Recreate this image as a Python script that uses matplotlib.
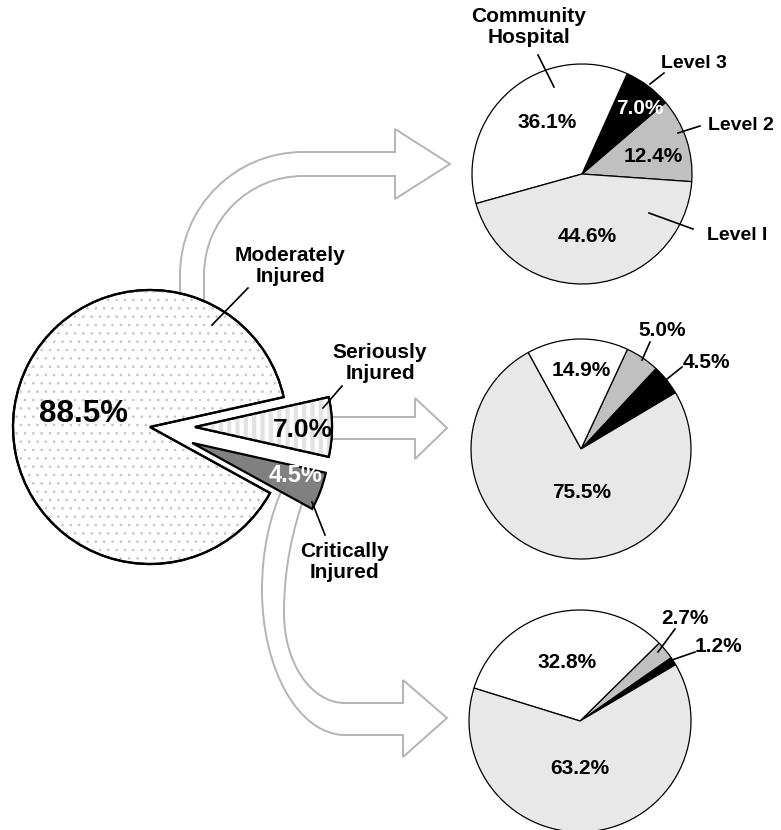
import matplotlib
matplotlib.use("Agg")
import matplotlib.pyplot as plt
from matplotlib.patches import Wedge, PathPatch
from matplotlib.path import Path

plt.rcParams['font.family'] = ['Liberation Sans', 'DejaVu Sans']
plt.rcParams['font.weight'] = 'bold'

W, H = 781, 830

# left pie: injury severity
severity = ["Seriously Injured", "Moderately Injured", "Critically Injured"]
severity_pct = [7.0, 88.5, 4.5]

# right pies: destination hospital for each severity group
dest_top = ["Level 2", "Level 3", "Community Hospital", "Level I"]
moderate_pct = [12.4, 7.0, 36.1, 44.6]
dest_low = ["Level 3", "Level 2", "Community Hospital", "Level I"]
serious_pct = [4.5, 5.0, 14.9, 75.5]
critical_pct = [1.2, 2.7, 32.8, 63.2]

dest_color = {"Community Hospital": "white", "Level I": "#e8e8e8",
              "Level 2": "#c0c0c0", "Level 3": "black"}
sev_color = {"Seriously Injured": "white", "Moderately Injured": "white",
             "Critically Injured": "#808080"}


def P(x, y):
    # pixel position (y down) -> axes data (y up)
    return (x, H - y)


fig = plt.figure(figsize=(W / 100, H / 100), dpi=100)
ax = fig.add_axes([0, 0, 1, 1])

# ---- block arrows (drawn behind the pies)
M, L, C, Z = Path.MOVETO, Path.LINETO, Path.CURVE4, Path.CLOSEPOLY


def arrow(pts, codes):
    verts = [P(x, y) for x, y in pts]
    ax.add_patch(PathPatch(Path(verts, codes), facecolor="white",
                           edgecolor="#b4b4b4", lw=1.4, zorder=0.5))


k = 0.5523
arrow([(180, 340), (180, 275), (180, 275 - k * 123), (303 - k * 123, 152), (303, 152),
       (395, 152), (395, 129), (450, 164), (395, 199), (395, 176), (303, 176),
       (303 - k * 99, 176), (204, 275 - k * 99), (204, 275), (204, 340), (180, 340)],
      [M, L, C, C, C, L, L, L, L, L, L, C, C, C, L, Z])
arrow([(300, 417), (415, 417), (415, 398), (447, 428), (415, 459), (415, 439),
       (300, 439), (300, 417)],
      [M, L, L, L, L, L, L, Z])
arrow([(284, 485), (270, 515), (262, 550), (262, 590), (262, 670), (299, 735), (345, 735),
       (403, 735), (403, 757), (447, 718), (403, 680), (403, 703), (345, 703),
       (311, 703), (284, 663), (284, 613), (284, 570), (292, 530), (306, 492),
       (284, 485)],
      [M, C, C, C, C, C, C, L, L, L, L, L, L, C, C, C, C, C, C, Z])

# ---- main pie
main_w, _ = ax.pie(severity_pct, explode=[45, 0, 45],
                   colors=[sev_color[s] for s in severity],
                   startangle=-12.6, radius=137, center=P(150, 427),
                   wedgeprops=dict(edgecolor="black", linewidth=1.6))
for w, h, hc, hlw in [(main_w[1], "..", "#c2c2c2", 0.6),
                      (main_w[0], "||", "#e2e2e2", 3.0)]:
    with plt.rc_context({"hatch.linewidth": hlw}):
        ov = Wedge(w.center, w.r, w.theta1, w.theta2, facecolor="none",
                   edgecolor=hc, linewidth=0, hatch=h, zorder=1.1)
        if hasattr(ov, "set_hatch_linewidth"):
            ov.set_hatch_linewidth(hlw)
        ax.add_patch(ov)
    ax.add_patch(Wedge(w.center, w.r, w.theta1, w.theta2, fill=False,
                       edgecolor="black", linewidth=1.6, zorder=1.2))

# ---- destination pies
for vals, cats, cx, cy, r, start in [(moderate_pct, dest_top, 582, 174, 110, -4),
                                     (serious_pct, dest_low, 581, 449, 110, 30.8),
                                     (critical_pct, dest_low, 580, 721, 111, 30.5)]:
    ax.pie(vals, colors=[dest_color[c] for c in cats], startangle=start,
           radius=r, center=P(cx, cy),
           wedgeprops=dict(edgecolor="black", linewidth=0.9))

# ---- text
def label(s, x, y, size, color="black"):
    ax.text(*P(x, y), s, ha="center", va="center", fontsize=size,
            color=color, fontweight="bold", zorder=3, linespacing=1.1)


def leader(x0, y0, x1, y1):
    ax.plot([x0, x1], [H - y0, H - y1], color="black", lw=1.2, zorder=3)


label("88.5%", 83, 414, 22.5)
label("7.0%", 303, 430, 19)
label("4.5%", 296, 476, 17, "white")
label("Moderately\nInjured", 290, 266, 15)
label("Seriously\nInjured", 380, 363, 15)
label("Critically\nInjured", 344, 562, 15)
leader(212, 325, 248, 288)
leader(323, 408, 342, 386)
leader(312, 502, 325, 535)

label("Community\nHospital", 529, 27, 15)
label("Level 3", 694, 63, 14)
label("Level 2", 741, 125, 14)
label("Level I", 737, 235, 14)
leader(538, 55, 554, 87)
leader(650, 84, 664, 73)
leader(678, 133, 700, 126)
leader(649, 213, 693, 229)
label("36.1%", 547, 123, 15)
label("7.0%", 640, 109, 15, "white")
label("12.4%", 653, 157, 15)
label("44.6%", 587, 237, 15)

label("14.9%", 581, 371, 15)
label("75.5%", 582, 493, 15)
label("5.0%", 662, 331, 15)
label("4.5%", 706, 363, 15)
leader(642, 360, 650, 342)
leader(667, 379, 682, 367)

label("32.8%", 567, 662, 15)
label("63.2%", 580, 769, 15)
label("2.7%", 685, 618, 15)
label("1.2%", 718, 646, 15)
leader(658, 652, 675, 629)
leader(672, 660, 695, 652)

ax.set_xlim(0, W)
ax.set_ylim(0, H)
ax.set_aspect("equal")
ax.axis("off")

plt.savefig("out.png", dpi=100)
